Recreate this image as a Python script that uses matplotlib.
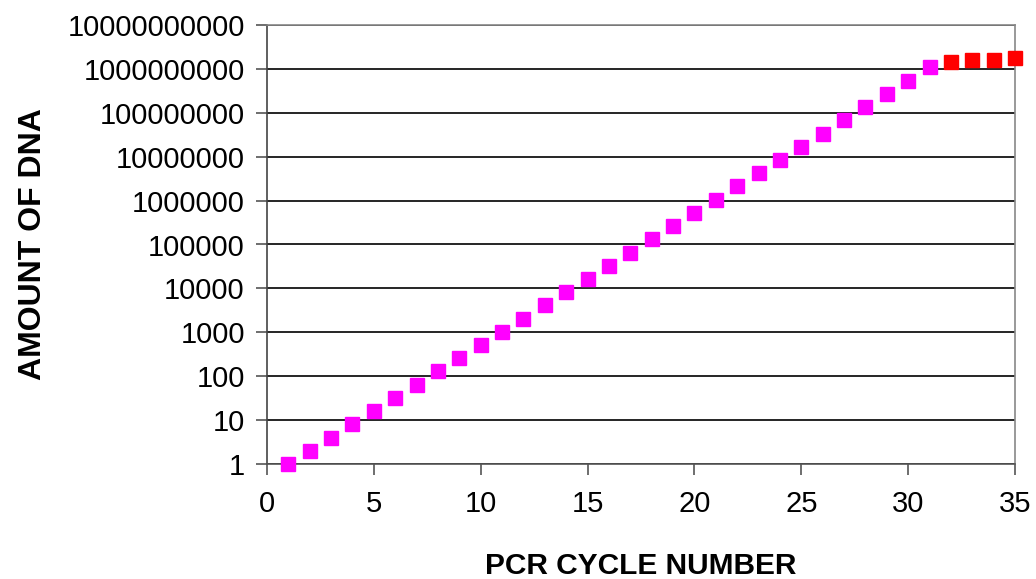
import matplotlib
matplotlib.use("Agg")
import matplotlib.pyplot as plt
from matplotlib.ticker import FixedLocator, FixedFormatter

plt.rcParams['font.family'] = ['Liberation Sans', 'DejaVu Sans']

cycles_exp = list(range(1, 32))
dna_exp = [1, 2, 4, 8, 16, 32, 64, 128, 256, 512, 1024, 2048, 4096, 8192, 16384,
           32768, 65536, 131072, 262144, 524288, 1048576, 2097152, 4194304,
           8388608, 16777216, 33554432, 67108864, 134217728, 268435456,
           536870912, 1100000000]
cycles_plat = [32, 33, 34, 35]
dna_plat = [1.4e9, 1.6e9, 1.6e9, 1.75e9]

y_ticks = [1, 10, 100, 1000, 10000, 100000, 1000000, 10000000, 100000000,
           1000000000, 10000000000]
y_labels = ["1", "10", "100", "1000", "10000", "100000", "1000000", "10000000",
            "100000000", "1000000000", "10000000000"]
x_ticks = [0, 5, 10, 15, 20, 25, 30, 35]

fig = plt.figure(figsize=(10.36, 5.79), dpi=100)
ax = fig.add_axes([267/1036, 1 - 464/579, (1015-267)/1036, (464-25)/579])

ax.set_yscale('log')
ax.set_xlim(0, 35)
ax.set_ylim(1, 1e10)

for y in y_ticks:
    ax.axhline(y, color='black', lw=1.2, zorder=1)

ax.plot(cycles_exp, dna_exp, linestyle='none', marker='s', ms=9.8,
        color='#ff00ff', mec='#ff00ff', clip_on=False, zorder=3)
ax.plot(cycles_plat, dna_plat, linestyle='none', marker='s', ms=9.8,
        color='#ff0000', mec='#ff0000', clip_on=False, zorder=3)

ax.yaxis.set_major_locator(FixedLocator(y_ticks))
ax.yaxis.set_major_formatter(FixedFormatter(y_labels))
ax.yaxis.set_minor_locator(FixedLocator([]))
ax.set_xticks(x_ticks)
ax.set_xticklabels([str(x) for x in x_ticks])

ax.tick_params(axis='both', which='major', labelsize=21, direction='out',
               length=8, width=1.2, color='#555555')
ax.tick_params(axis='y', pad=8)
ax.tick_params(axis='x', pad=11)

for s in ['top', 'right']:
    ax.spines[s].set_color('#888888')
    ax.spines[s].set_linewidth(1.2)
ax.spines['left'].set_color('#444444')
ax.spines['bottom'].set_color('#555555')
ax.spines['left'].set_linewidth(1.2)
ax.spines['bottom'].set_linewidth(1.2)

ax.set_xlabel('PCR CYCLE NUMBER', fontsize=21.5, fontweight='bold', labelpad=24)
ax.set_ylabel('AMOUNT OF DNA', fontsize=23, fontweight='bold', labelpad=14)

fig.savefig('out.png', dpi=100)
